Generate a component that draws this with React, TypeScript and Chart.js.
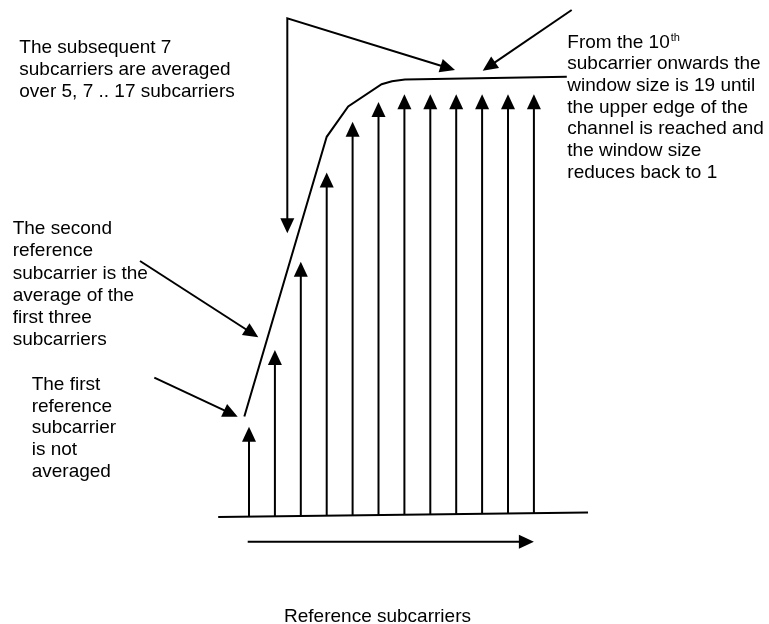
import React, { useEffect, useRef } from "react";
import { Chart, registerables } from "chart.js";
Chart.register(...registerables);

// ---- data (subcarrier index vs. normalised channel-estimate level) ----
const subcarrierIndex = [1, 2, 3, 4, 5, 6, 7, 8, 9, 10, 11, 12];
const arrowLevel = [0.21, 0.392, 0.602, 0.814, 0.935, 0.982, 1.0, 1.0, 1.0, 1.0, 1.0, 1.0];
const envelopeX = [0.82, 4.0, 4.83, 6.12, 6.52, 7.02, 13.27];
const envelopeY = [0.234, 0.899, 0.971, 1.024, 1.031, 1.035, 1.042];
const baselineX = [-0.19, 14.09];
const baselineY = [-0.005, 0.006];
const axisTitle = "Reference subcarriers";

// callout arrows (in subcarrier / level units), arrowheads at the ends flagged
const callouts = [
  { pts: [[2.479, 0.6696], [2.479, 1.1807], [8.954, 1.0578]], startHead: true, endHead: true },
  { pts: [[13.459, 1.2004], [10.023, 1.0561]], startHead: false, endHead: true },
  { pts: [[-3.208, 0.6038], [1.359, 0.4224]], startHead: false, endHead: true },
  { pts: [[-2.656, 0.3264], [0.5637, 0.2337]], startHead: false, endHead: true },
  { pts: [[0.95, -0.0635], [12.0, -0.0635]], startHead: false, endHead: true },
];

const textTop = ["The subsequent 7", "subcarriers are averaged", "over 5, 7 .. 17 subcarriers"];
const textSecond = ["The second", "reference", "subcarrier is the", "average of the", "first three", "subcarriers"];
const textFirst = ["The first", "reference", "subcarrier", "is not", "averaged"];
const textRight = ["From the 10", "subcarrier onwards the", "window size is 19 until", "the upper edge of the", "channel is reached and", "the window size", "reduces back to 1"];

const FONT = '"Liberation Sans", Arial, sans-serif';

function drawHead(ctx: CanvasRenderingContext2D, fx: number, fy: number, tx: number, ty: number, L: number, W: number) {
  const dx = tx - fx, dy = ty - fy;
  const d = Math.hypot(dx, dy) || 1;
  const ux = dx / d, uy = dy / d;
  const bx = tx - ux * L, by = ty - uy * L;
  ctx.beginPath();
  ctx.moveTo(tx, ty);
  ctx.lineTo(bx - uy * W, by + ux * W);
  ctx.lineTo(bx + uy * W, by - ux * W);
  ctx.closePath();
  ctx.fill();
  return [bx + ux * 2, by + uy * 2];
}

const diagramPlugin = {
  id: "diagram",
  afterDatasetsDraw(chart: any) {
    const ctx: CanvasRenderingContext2D = chart.ctx;
    const xs = chart.scales.x, ys = chart.scales.y;
    const px = (v: number) => xs.getPixelForValue(v);
    const py = (v: number) => ys.getPixelForValue(v);
    ctx.save();
    ctx.strokeStyle = "#000";
    ctx.fillStyle = "#000";
    ctx.lineWidth = 2;
    ctx.lineCap = "butt";
    // vertical subcarrier arrows
    const bx0 = baselineX[0], bx1 = baselineX[1];
    subcarrierIndex.forEach((idx, i) => {
      const t = (idx - bx0) / (bx1 - bx0);
      const base = baselineY[0] + t * (baselineY[1] - baselineY[0]);
      const x = px(idx), yb = py(base), yt = py(arrowLevel[i]);
      const end = drawHead(ctx, x, yb, x, yt, 15, 7);
      ctx.beginPath();
      ctx.moveTo(x, yb);
      ctx.lineTo(end[0], end[1]);
      ctx.stroke();
    });
    // callouts
    callouts.forEach((c) => {
      const p = c.pts.map(([a, b]) => [px(a), py(b)]);
      let s = p[0], e = p[p.length - 1];
      let sDraw = s, eDraw = e;
      if (c.startHead) sDraw = drawHead(ctx, p[1][0], p[1][1], s[0], s[1], 15, 7);
      if (c.endHead) eDraw = drawHead(ctx, p[p.length - 2][0], p[p.length - 2][1], e[0], e[1], 15, 7);
      ctx.beginPath();
      ctx.moveTo(sDraw[0], sDraw[1]);
      for (let k = 1; k < p.length - 1; k++) ctx.lineTo(p[k][0], p[k][1]);
      ctx.lineTo(eDraw[0], eDraw[1]);
      ctx.stroke();
    });
    // texts
    ctx.font = `19px ${FONT}`;
    ctx.textAlign = "left";
    ctx.textBaseline = "alphabetic";
    const block = (lines: string[], x: number, y: number, lh: number) =>
      lines.forEach((l, k) => ctx.fillText(l, x, y + k * lh));
    block(textTop, 19.3, 53.3, 21.7);
    block(textSecond, 12.7, 234.3, 22.1);
    block(textFirst, 31.7, 390, 21.7);
    block(textRight, 567.3, 47.5, 21.7);
    const w10 = ctx.measureText(textRight[0]).width;
    ctx.font = `11px ${FONT}`;
    ctx.fillText("th", 567.3 + w10 + 1, 40.5);
    ctx.font = `19px ${FONT}`;
    ctx.textAlign = "center";
    ctx.fillText(axisTitle, 377.5, 621.5);
    ctx.restore();
  },
};

export default function App() {
  const ref = useRef<HTMLCanvasElement | null>(null);
  useEffect(() => {
    document.body.style.margin = "0";
    const canvas = ref.current!;
    const chart = new Chart(canvas, {
      type: "scatter",
      data: {
        datasets: [
          {
            label: "envelope",
            data: envelopeX.map((x, i) => ({ x, y: envelopeY[i] })),
            showLine: true,
            borderColor: "#000",
            borderWidth: 2,
            pointRadius: 0,
            tension: 0,
          },
          {
            label: "baseline",
            data: baselineX.map((x, i) => ({ x, y: baselineY[i] })),
            showLine: true,
            borderColor: "#000",
            borderWidth: 2,
            pointRadius: 0,
          },
        ],
      },
      options: {
        responsive: false,
        animation: false,
        devicePixelRatio: 1,
        layout: { padding: 0, autoPadding: false },
        plugins: { legend: { display: false }, tooltip: { enabled: false }, title: { display: false } },
        scales: {
          x: { type: "linear", display: false, min: -8.614, max: 21.077 },
          y: { type: "linear", display: false, min: -0.2591, max: 1.2242 },
        },
      },
      plugins: [diagramPlugin],
    });
    return () => chart.destroy();
  }, []);
  return (
    <div style={{ position: "fixed", left: 0, top: 0, width: 769, height: 624, background: "#fff" }}>
      <canvas ref={ref} width={769} height={624} style={{ display: "block" }} />
    </div>
  );
}
